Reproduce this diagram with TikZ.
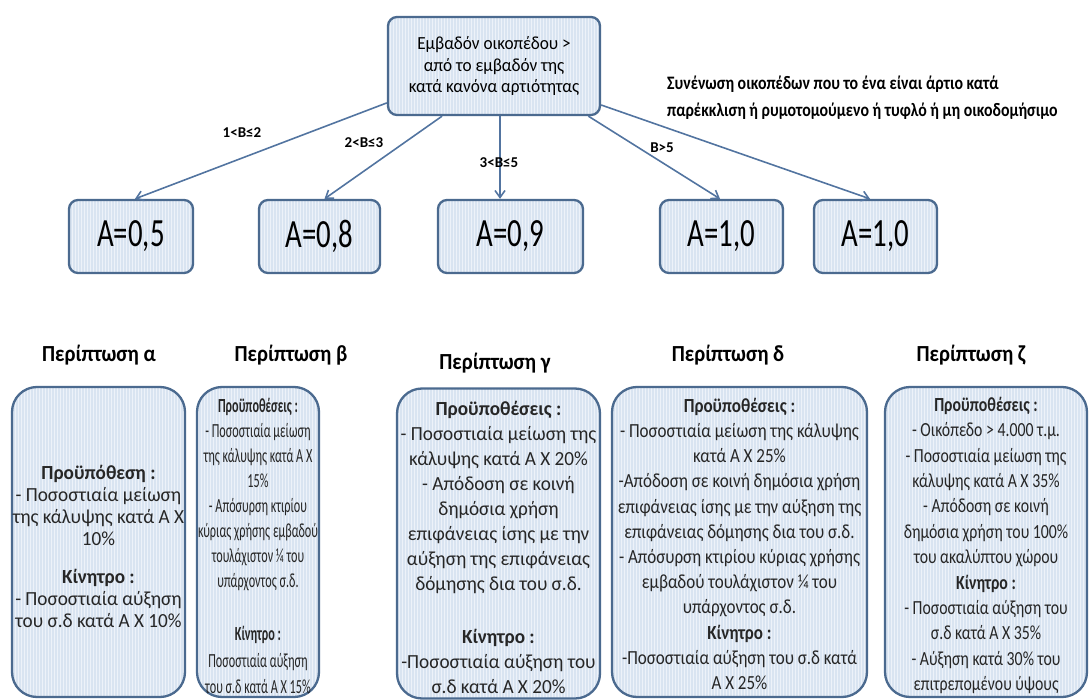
\documentclass[tikz,border=0pt]{standalone}
\usepackage{fontspec}
\setmainfont{Carlito}
\newcommand\stretchfont[1]{\fontspec{Carlito}[FakeStretch=#1]}
\usetikzlibrary{arrows.meta,patterns}
\definecolor{boxline}{HTML}{4B6A8F}
\definecolor{boxfill}{HTML}{D9E4F1}
\definecolor{stripe}{HTML}{EDF2F9}
\definecolor{arrowcol}{HTML}{5274A0}
\tikzset{
  box/.style={draw=boxline, line width=2.3pt, rounded corners=9pt, inner sep=0pt,
    preaction={fill=boxfill}, preaction={pattern=vertical lines, pattern color=stripe}},
  valbox/.style={box, minimum height=73pt, font=\stretchfont{0.72}\fontsize{40}{40}\selectfont},
  casebox/.style={box, rounded corners=25pt, minimum height=310pt},
  casetext/.style 2 args={anchor=north, align=center, inner sep=0pt, text=black!85,
    font=\stretchfont{#1}\fontsize{20}{#2}\selectfont},
  casetitle/.style={font=\stretchfont{0.9}\bfseries\fontsize{23}{23}\selectfont},
  cond/.style={font=\bfseries\fontsize{15}{15}\selectfont},
  arr/.style={draw=arrowcol, line width=1.6pt, -{Straight Barb[length=7pt,width=10pt]}}
}
\begin{document}
\begin{tikzpicture}[x=1pt,y=-1pt]
  \useasboundingbox (0,0) rectangle (1091,700);
  % top condition and the A values
  \node[box, minimum width=212pt, minimum height=98pt, align=center,
    font=\stretchfont{0.93}\fontsize{18.5}{21.5}\selectfont] (top) at (494,66)
    {Εμβαδόν οικοπέδου >\\ από το εμβαδόν της\\ κατά κανόνα αρτιότητας};
  \node[valbox, minimum width=124pt] (a1) at (131,236.5) {A=0,5};
  \node[valbox, minimum width=121pt] (a2) at (319.5,236.5) {A=0,8};
  \node[valbox, minimum width=145pt] (a3) at (510.5,236.5) {A=0,9};
  \node[valbox, minimum width=123pt] (a4) at (721.5,236.5) {A=1,0};
  \node[valbox, minimum width=123pt] (a5) at (875.5,236.5) {A=1,0};
  \draw[arr] (top.199) -- ([xshift=4pt]a1.north);
  \draw[arr] (top.224) -- ([xshift=5pt]a2.north);
  \draw[arr] ([xshift=6pt]top.south) -- ([xshift=-10.5pt]a3.north);
  \draw[arr] (top.-28) -- ([xshift=-1.5pt]a4.north);
  \draw[arr] (top.-20) -- ([xshift=-5.5pt]a5.north);
  \node[cond] (b1) at (242,133) {1<B≤2};
  \node[cond] (b2) at (364,143) {2<B≤3};
  \node[cond] (b3) at (499,163) {3<B≤5};
  \node[cond] (b4) at (662,148) {B>5};
  \node[anchor=west, align=left, inner sep=0pt,
    font=\stretchfont{0.835}\bfseries\fontsize{19}{27}\selectfont]
    (note) at (667,98) {Συνένωση οικοπέδων που το ένα είναι άρτιο κατά\\
    παρέκκλιση ή ρυμοτομούμενο ή τυφλό ή μη οικοδομήσιμο};
  % the cases
  \node[casetitle] (ha) at (99,355) {Περίπτωση α};
  \node[casetitle] (hb) at (291,355) {Περίπτωση β};
  \node[casetitle] (hc) at (495,363) {Περίπτωση γ};
  \node[casetitle] (hd) at (728,355) {Περίπτωση δ};
  \node[casetitle] (hz) at (971,355) {Περίπτωση ζ};
  \node[casebox, minimum width=173pt] (ca) at (98.5,542) {};
  \node[casebox, minimum width=122pt] (cb) at (258,542) {};
  \node[casebox, minimum width=203pt] (cc) at (498.5,543.5) {};
  \node[casebox, minimum width=255pt] (cd) at (739.5,542) {};
  \node[casebox, minimum width=202pt] (cz) at (986,542) {};
  \node[casetext={0.96}{22}] (ta) at ([yshift=-79pt]ca.north) {\textbf{Προϋπόθεση :}\\
    - Ποσοστιαία μείωση\\ της κάλυψης κατά Α Χ\\ 10\%\\[16pt]
    \textbf{Κίνητρο :}\\ - Ποσοστιαία  αύξηση\\ του σ.δ κατά Α Χ 10\%};
  \node[casetext={0.61}{25}] (tb) at ([yshift=-12pt]cb.north) {\textbf{Προϋποθέσεις :}\\
    - Ποσοστιαία μείωση\\ της κάλυψης κατά Α Χ\\ 15\%\\ - Απόσυρση κτιρίου\\
    κύριας χρήσης εμβαδού\\ τουλάχιστον ¼ του\\ υπάρχοντος σ.δ.\\[28pt]
    \textbf{Κίνητρο :}\\[2pt] Ποσοστιαία  αύξηση\\[1pt] του σ.δ κατά Α Χ 15\%};
  \node[casetext={0.96}{25}] (tc) at ([yshift=-14pt]cc.north) {\textbf{Προϋποθέσεις :}\\
    - Ποσοστιαία μείωση της\\ κάλυψης κατά Α Χ 20\%\\ - Απόδοση σε κοινή\\
    δημόσια χρήση\\ επιφάνειας ίσης με την\\ αύξηση της επιφάνειας\\
    δόμησης δια του σ.δ.\\[28pt]
    \textbf{Κίνητρο :}\\ -Ποσοστιαία αύξηση του\\ σ.δ κατά Α Χ 20\%};
  \node[casetext={0.85}{25.2}] (td) at ([yshift=-12pt]cd.north) {\textbf{Προϋποθέσεις :}\\
    - Ποσοστιαία μείωση της κάλυψης\\ κατά Α Χ 25\%\\
    -Απόδοση σε κοινή δημόσια χρήση\\ επιφάνειας ίσης με την αύξηση της\\
    επιφάνειας δόμησης δια του σ.δ.\\ - Απόσυρση κτιρίου κύριας χρήσης\\
    εμβαδού τουλάχιστον ¼ του\\ υπάρχοντος σ.δ.\\
    \textbf{Κίνητρο :}\\ -Ποσοστιαία  αύξηση του σ.δ κατά\\ Α Χ 25\%};
  \node[casetext={0.79}{25.4}] (tz) at ([yshift=-11pt]cz.north) {\textbf{Προϋποθέσεις :}\\
    - Οικόπεδο > 4.000 τ.μ.\\ - Ποσοστιαία μείωση της\\ κάλυψης κατά Α Χ 35\%\\
    - Απόδοση σε κοινή\\ δημόσια χρήση του 100\%\\ του ακαλύπτου χώρου\\
    \textbf{Κίνητρο :}\\ - Ποσοστιαία  αύξηση του\\ σ.δ κατά Α Χ 35\%\\
    - Αύξηση κατά 30\% του\\ επιτρεπομένου ύψους};
\end{tikzpicture}
\end{document}
